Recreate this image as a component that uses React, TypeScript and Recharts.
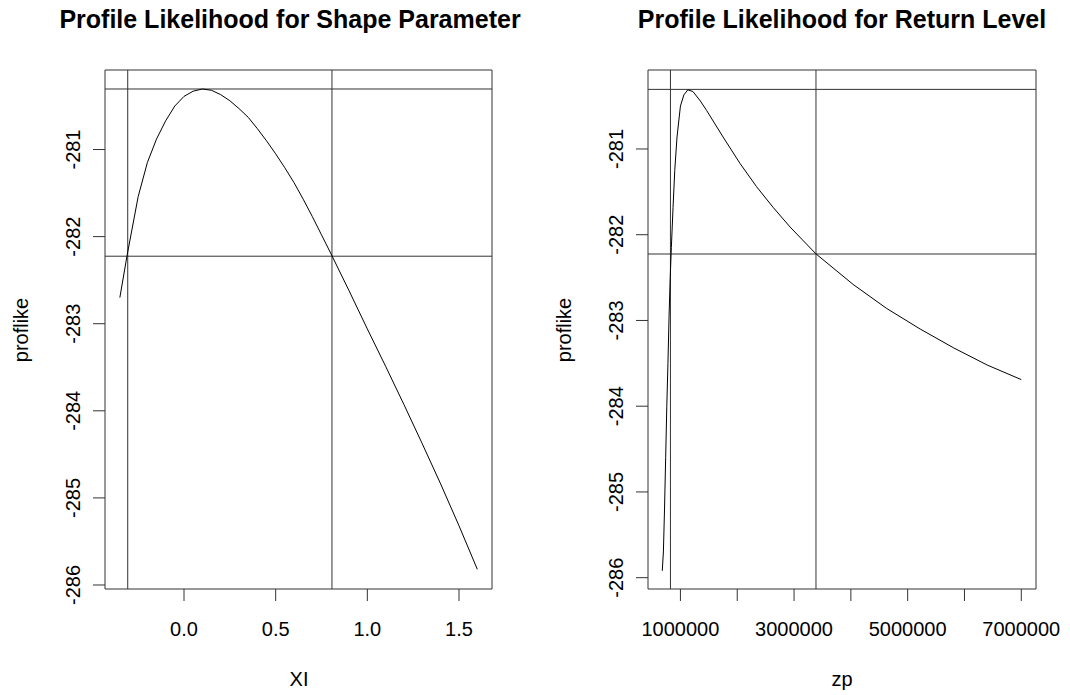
import {
  LineChart,
  Line,
  XAxis,
  YAxis,
  ReferenceLine,
  ReferenceArea,
} from 'recharts'

// shape parameter profile
const xiValues = [
  -0.35, -0.31, -0.25, -0.2, -0.15, -0.1, -0.05, 0.0, 0.05, 0.1, 0.15, 0.2,
  0.25, 0.3, 0.35, 0.4, 0.45, 0.5, 0.55, 0.6, 0.65, 0.7, 0.75, 0.8, 0.9, 1.0,
  1.1, 1.2, 1.3, 1.4, 1.5, 1.6,
]
const xiProfile = [
  -282.7, -282.21, -281.54, -281.15, -280.88, -280.67, -280.5, -280.39,
  -280.33, -280.305, -280.32, -280.37, -280.44, -280.53, -280.63, -280.76,
  -280.9, -281.05, -281.21, -281.38, -281.57, -281.77, -281.98, -282.19,
  -282.62, -283.06, -283.49, -283.93, -284.38, -284.84, -285.32, -285.82,
]
const xiCutoffs = [-0.307, 0.807]

// return level profile
const zpValues = [
  680000, 700000, 720000, 740000, 760000, 780000, 800000, 820000, 840000,
  870000, 900000, 940000, 1000000, 1060000, 1130000, 1220000, 1350000,
  1460000, 1750000, 2050000, 2340000, 2630000, 2930000, 3380000, 4040000,
  4630000, 5220000, 5810000, 6400000, 7000000,
]
const zpProfile = [
  -285.92, -285.7, -285.2, -284.6, -284.0, -283.5, -282.95, -282.5, -282.15,
  -281.68, -281.25, -280.86, -280.5, -280.37, -280.31, -280.33, -280.44,
  -280.55, -280.86, -281.17, -281.44, -281.68, -281.91, -282.22, -282.58,
  -282.86, -283.1, -283.32, -283.52, -283.69,
]
const zpCutoffs = [824000, 3386000]

// max likelihood and 95% cutoff
const likeLevels = [-280.305, -282.225]

const yTicks = [-286, -285, -284, -283, -282, -281]
const xiTicks = [0, 0.5, 1, 1.5]
const zpTicks = [1000000, 2000000, 3000000, 4000000, 5000000, 6000000, 7000000]

const font = '"Liberation Sans", Arial, sans-serif'
const ink = '#333'

const xiData = xiValues.map((x, i) => ({ x, p: xiProfile[i] }))
const zpData = zpValues.map((x, i) => ({ x, p: zpProfile[i] }))

function makeYTick(baseX: number) {
  return (props: any) => (
    <g transform={`translate(${baseX},${props.y}) rotate(-90)`}>
      <text textAnchor="middle" fontSize={20} fontFamily={font} fill="#000">
        {props.payload.value}
      </text>
    </g>
  )
}

function makeXTick(fmt: (v: number) => string) {
  return (props: any) => (
    <text
      x={props.x}
      y={636}
      textAnchor="middle"
      fontSize={20}
      fontFamily={font}
      fill="#000"
    >
      {fmt(props.payload.value)}
    </text>
  )
}

type PanelProps = {
  data: { x: number; p: number }[]
  xDomain: [number, number]
  yDomain: [number, number]
  xTicks: number[]
  fmt: (v: number) => string
  cutoffs: number[]
  yAxisWidth: number
  marginRight: number
}

function Panel({
  data,
  xDomain,
  yDomain,
  xTicks,
  fmt,
  cutoffs,
  yAxisWidth,
  marginRight,
}: PanelProps) {
  return (
    <LineChart
      width={535}
      height={695}
      data={data}
      margin={{ top: 70, right: marginRight, bottom: 46, left: 0 }}
    >
      <XAxis
        type="number"
        dataKey="x"
        domain={xDomain}
        ticks={xTicks}
        allowDataOverflow
        height={60}
        tickSize={12}
        axisLine={false}
        tickLine={{ stroke: ink }}
        tick={makeXTick(fmt)}
        interval={0}
      />
      <YAxis
        type="number"
        domain={yDomain}
        ticks={yTicks}
        allowDataOverflow
        width={yAxisWidth}
        tickSize={12}
        axisLine={false}
        tickLine={{ stroke: ink }}
        tick={makeYTick(yAxisWidth - 25)}
        interval={0}
      />
      <ReferenceArea
        x1={xDomain[0]}
        x2={xDomain[1]}
        y1={yDomain[0]}
        y2={yDomain[1]}
        fill="none"
        fillOpacity={0}
        stroke={ink}
        strokeWidth={1}
      />
      {likeLevels.map((v) => (
        <ReferenceLine key={'h' + v} y={v} stroke={ink} strokeWidth={1} />
      ))}
      {cutoffs.map((v) => (
        <ReferenceLine key={'v' + v} x={v} stroke={ink} strokeWidth={1} />
      ))}
      <Line
        type="linear"
        dataKey="p"
        stroke="#000"
        strokeWidth={1}
        dot={false}
        isAnimationActive={false}
      />
    </LineChart>
  )
}

export default function App() {
  return (
    <div
      style={{
        position: 'absolute',
        left: 0,
        top: 0,
        width: 1070,
        height: 695,
        background: '#fff',
      }}
    >
      <div style={{ position: 'absolute', left: 0, top: 0 }}>
        <Panel
          data={xiData}
          xDomain={[-0.431, 1.68]}
          yDomain={[-286.046, -280.087]}
          xTicks={xiTicks}
          fmt={(v) => v.toFixed(1)}
          cutoffs={xiCutoffs}
          yAxisWidth={105}
          marginRight={43}
        />
      </div>
      <div style={{ position: 'absolute', left: 535, top: 0 }}>
        <Panel
          data={zpData}
          xDomain={[429000, 7259000]}
          yDomain={[-286.132, -280.079]}
          xTicks={zpTicks}
          fmt={(v) => ((v / 1000000) % 2 === 1 ? String(v) : '')}
          cutoffs={zpCutoffs}
          yAxisWidth={113}
          marginRight={34}
        />
      </div>
      <svg
        width={1070}
        height={695}
        style={{ position: 'absolute', left: 0, top: 0, pointerEvents: 'none' }}
        fontFamily={font}
      >
        <text x={290} y={28} textAnchor="middle" fontSize={25} fontWeight="bold">
          Profile Likelihood for Shape Parameter
        </text>
        <text x={842} y={28} textAnchor="middle" fontSize={25} fontWeight="bold">
          Profile Likelihood for Return Level
        </text>
        <text x={299} y={686} textAnchor="middle" fontSize={20}>
          XI
        </text>
        <text x={842} y={686} textAnchor="middle" fontSize={20}>
          zp
        </text>
        <g transform="translate(28,330) rotate(-90)">
          <text textAnchor="middle" fontSize={20}>
            proflike
          </text>
        </g>
        <g transform="translate(571,330) rotate(-90)">
          <text textAnchor="middle" fontSize={20}>
            proflike
          </text>
        </g>
      </svg>
    </div>
  )
}
